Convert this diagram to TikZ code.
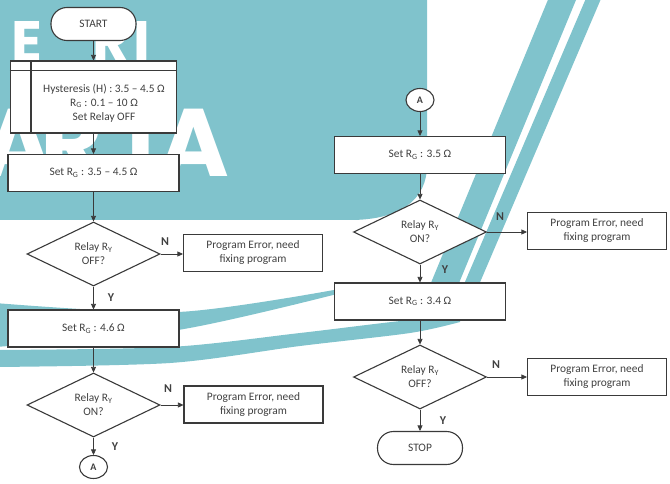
\documentclass[tikz,border=0pt]{standalone}
\usepackage{fontspec}
\setmainfont{Carlito}
\newfontfamily\wmfont{Poppins}
\usetikzlibrary{positioning, shapes.geometric, arrows.meta, calc}
\definecolor{fcline}{HTML}{3A3A3A}
\definecolor{fctext}{HTML}{404040}
\definecolor{wmteal}{HTML}{80C3CC}

\begin{document}
\begin{tikzpicture}[x=1pt, y=-1pt,
    fcnode/.style={draw=fcline, line width=1.1pt, fill=white, text=fctext,
      font=\fontsize{11.4}{14}\selectfont, align=center, inner sep=0pt},
    terminal/.style={fcnode, rounded corners=16pt, minimum width=85pt, minimum height=33pt},
    procbox/.style={fcnode, minimum width=171pt, minimum height=37pt},
    errbox/.style={fcnode, minimum width=139pt, minimum height=37pt},
    decision/.style={fcnode, diamond, aspect=2, minimum width=133pt, minimum height=64pt},
    offpage/.style={fcnode, ellipse, minimum width=28pt, minimum height=23pt,
      font=\fontsize{10}{10}\selectfont\bfseries},
    flow/.style={draw=fcline, line width=0.7pt, -{Triangle[length=5.5pt, width=5pt]}},
    yn/.style={text=fctext, font=\fontsize{12}{12}\selectfont\bfseries, inner sep=0pt},
    wmletter/.style={text=white, anchor=base west, inner sep=0pt}]
  \useasboundingbox (0,0) rectangle (670,484);

  \begin{scope}
    \clip (0,0) rectangle (670,484);
    \fill[wmteal] (0,0) -- (427,0) -- (427,165) .. controls (427,200) and (400,220) .. (350,220) -- (0,220) -- cycle;
    \foreach \ch/\xx in {E/11, R/92, I/133}
      \node[wmletter, font=\wmfont\bfseries\fontsize{57}{57}\selectfont] at (\xx,62) {\ch};
    \foreach \ch/\xx in {A/-18, R/40, T/112, A/158}
      \node[wmletter, font=\wmfont\bfseries\fontsize{96}{96}\selectfont] at (\xx,177) {\ch};
    \fill[wmteal] plot[smooth] coordinates {(-5,303) (178,312) (345,288)}
      -- plot[smooth] coordinates {(345,292) (178,330) (-5,347)} -- cycle;
    \fill[wmteal] plot[smooth] coordinates {(-5,350) (170,347) (300,333) (410,320) (460,318)}
      -- plot[smooth] coordinates {(460,322) (410,333) (300,346) (170,363) (-5,367)} -- cycle;
    \draw[wmteal, line width=26pt] (564,-5) -- (440,295);
    \draw[wmteal, line width=14pt] (595,-5) -- (467,295);
  \end{scope}

  \node[terminal] (start) at (93.5,24) {START};
  \node[fcnode, minimum width=166pt, minimum height=72pt] (init) at (93.5,97) {};
  \draw[draw=fcline, line width=1.1pt] ([yshift=-10pt]init.north west) -- ([yshift=-10pt]init.north east);
  \draw[draw=fcline, line width=1.1pt] ([xshift=21pt]init.north west) -- ([xshift=21pt]init.south west);
  \node[text=fctext, font=\fontsize{11.4}{14}\selectfont, align=center] (inittext) at (104,103)
    {Hysteresis (H) : 3.5 -- 4.5 Ω\\R\textsubscript{G} : 0.1 -- 10 Ω\\Set Relay OFF};
  \node[procbox] (setrange) at (93.5,173) {Set R\textsubscript{G} : 3.5 -- 4.5 Ω};
  \node[decision] (chkoff) at (93.5,254) {Relay R\textsubscript{Y}\\OFF?};
  \node[errbox] (err1) at (253,253) {Program Error, need\\fixing program};
  \node[procbox] (sethigh) at (93.5,328.5) {Set R\textsubscript{G} : 4.6 Ω};
  \node[decision] (chkon) at (93.5,405) {Relay R\textsubscript{Y}\\ON?};
  \node[errbox] (err2) at (253.5,404.5) {Program Error, need\\fixing program};
  \node[offpage] (linkout) at (93.5,467) {A};

  \node[offpage] (linkin) at (420,100) {A};
  \node[procbox] (setmid) at (420,155) {Set R\textsubscript{G} : 3.5 Ω};
  \node[decision] (chkon2) at (420,232) {Relay R\textsubscript{Y}\\ON?};
  \node[errbox] (err3) at (597,231) {Program Error, need\\fixing program};
  \node[procbox] (setlow) at (420,301.5) {Set R\textsubscript{G} : 3.4 Ω};
  \node[decision] (chkoff2) at (420,377) {Relay R\textsubscript{Y}\\OFF?};
  \node[errbox] (err4) at (597,377) {Program Error, need\\fixing program};
  \node[terminal] (stop) at (420,448) {STOP};

  \draw[flow] (start) -- (init);
  \draw[flow] (init) -- (setrange);
  \draw[flow] (setrange) -- (chkoff);
  \draw[flow] (chkoff.east) -- (chkoff.east -| err1.west);
  \draw[flow] (chkoff) -- (sethigh);
  \draw[flow] (sethigh) -- (chkon);
  \draw[flow] (chkon.east) -- (chkon.east -| err2.west);
  \draw[flow] (chkon) -- (linkout);
  \draw[flow] (linkin) -- (setmid);
  \draw[flow] (setmid) -- (chkon2);
  \draw[flow] (chkon2.east) -- (chkon2.east -| err3.west);
  \draw[flow] (chkon2) -- (setlow);
  \draw[flow] (setlow) -- (chkoff2);
  \draw[flow] (chkoff2.east) -- (chkoff2.east -| err4.west);
  \draw[flow] (chkoff2) -- (stop);

  \node[yn] (n1) at (165,242) {N};
  \node[yn] (y1) at (111,298) {Y};
  \node[yn] (n2) at (168,389) {N};
  \node[yn] (y2) at (115,447) {Y};
  \node[yn] (n3) at (500,217) {N};
  \node[yn] (y3) at (445,270) {Y};
  \node[yn] (n4) at (496,365) {N};
  \node[yn] (y4) at (443,421) {Y};
\end{tikzpicture}
\end{document}
